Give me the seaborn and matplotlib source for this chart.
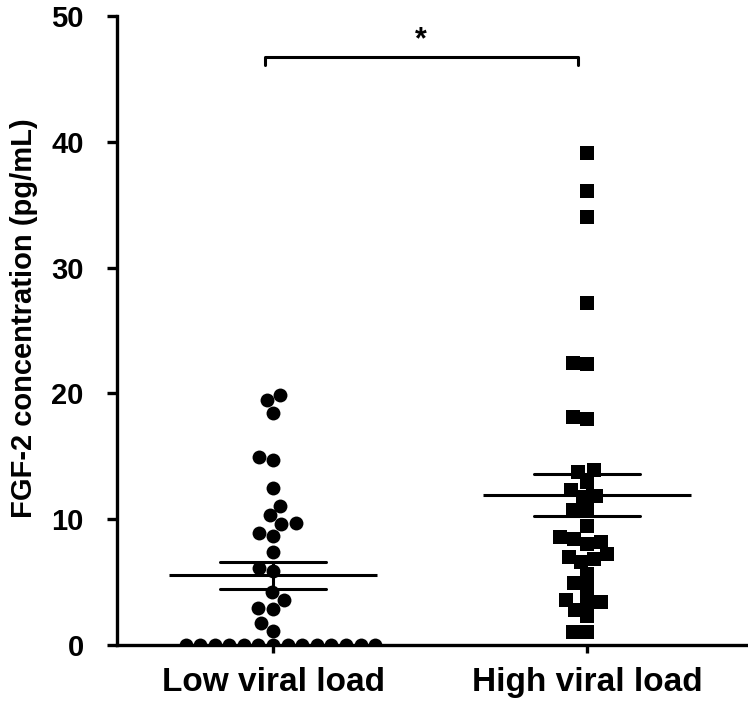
import numpy as np
import pandas as pd
import matplotlib
matplotlib.use("Agg")
import matplotlib.pyplot as plt
import seaborn as sns

grupy = ["Low viral load", "High viral load"]
niskie = [19.87, 19.44, 18.44, 14.96, 14.67, 12.48, 11.09, 10.3, 9.7, 9.6,
          8.9, 8.7, 7.41, 6.12, 5.88, 4.18, 3.58, 2.94, 2.84, 1.75, 1.15,
          0, 0, 0, 0, 0, 0, 0, 0, 0, 0, 0, 0, 0, 0]
wysokie = [39.09, 36.1, 34.0, 27.2, 22.4, 22.3, 18.1, 17.95, 13.9, 13.77,
           12.98, 12.32, 11.88, 11.73, 10.73, 10.73, 9.46, 8.56, 8.43, 8.21,
           8.03, 7.21, 7.02, 6.84, 6.57, 5.62, 4.96, 4.56, 3.58, 3.44, 3.44,
           2.78, 2.3, 1.05, 1.05]
y_ticks = [0, 10, 20, 30, 40, 50]
gwiazdka = "*"

df = pd.DataFrame({
    "grupa": [grupy[0]] * len(niskie) + [grupy[1]] * len(wysokie),
    "FGF2": niskie + wysokie,
})

sns.set_style("ticks", {"axes.edgecolor": "black", "xtick.color": "black",
                        "ytick.color": "black", "text.color": "black",
                        "axes.labelcolor": "black"})
plt.rcParams['font.family'] = ['Liberation Sans Narrow', 'Liberation Sans', 'DejaVu Sans']
plt.rcParams['font.weight'] = 'bold'

fig = plt.figure(figsize=(7.48, 7.14), dpi=100)
ax = fig.add_axes([0.1564, 0.0966, 1 - 0.1564, 0.9776 - 0.0966])

sns.swarmplot(data=df[df["grupa"] == grupy[0]], x="grupa", y="FGF2", order=grupy,
              marker="o", color="black", size=10, linewidth=0, ax=ax)
sns.swarmplot(data=df[df["grupa"] == grupy[1]], x="grupa", y="FGF2", order=grupy,
              marker="s", color="black", size=9.5, linewidth=0, ax=ax)

# srednia +/- SEM
for i, wartosci in enumerate([niskie, wysokie]):
    w = np.array(wartosci, dtype=float)
    sr = w.mean()
    sem = w.std(ddof=1) / np.sqrt(len(w))
    ax.plot([i - 0.33, i + 0.33], [sr, sr], color="black", lw=2.2, solid_capstyle="butt", zorder=5)
    ax.plot([i - 0.17, i + 0.17], [sr + sem, sr + sem], color="black", lw=2.2, solid_capstyle="round", zorder=5)
    ax.plot([i - 0.17, i + 0.17], [sr - sem, sr - sem], color="black", lw=2.2, solid_capstyle="round", zorder=5)
    ax.plot([i, i], [sr - sem, sr + sem], color="black", lw=2.2, zorder=5)

# istotnosc
ax.plot([-0.025, -0.025, 0.97, 0.97], [46.1, 46.75, 46.75, 46.1], color="black", lw=2.2,
        solid_capstyle="round", solid_joinstyle="round", clip_on=False)
ax.text(0.47, 46.9, gwiazdka, ha="center", va="bottom", fontsize=22, fontweight="bold")

ax.set_xlim(-0.497, 1.513)
ax.set_ylim(0, 50)
ax.set_yticks(y_ticks)
ax.set_yticklabels([str(t) for t in y_ticks], fontsize=21, fontweight="bold")
ax.set_xticks([0, 1])
ax.set_xticklabels(grupy, fontsize=24, fontweight="bold")
ax.set_xlabel("")
ax.set_ylabel("FGF-2 concentration (pg/mL)", fontsize=21, fontweight="bold")
ax.yaxis.set_label_coords(-0.125, 0.52)

sns.despine(ax=ax)
for s in ["left", "bottom"]:
    ax.spines[s].set_linewidth(2.4)
ax.tick_params(axis="y", length=7, width=2.4, pad=17)
ax.tick_params(axis="x", length=6, width=2.4, pad=10)

fig.savefig("out.png", dpi=100)
